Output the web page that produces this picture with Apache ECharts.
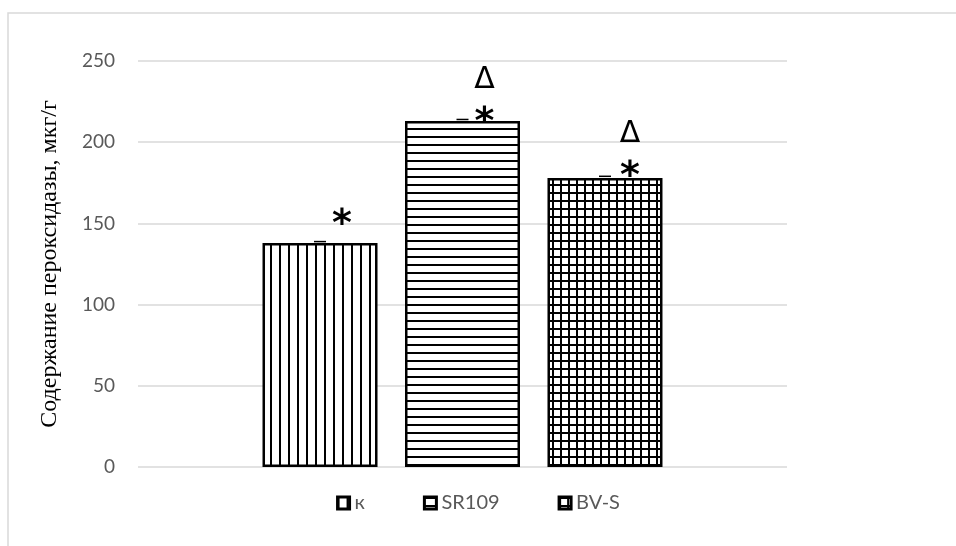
<!DOCTYPE html>
<html>
<head>
<meta charset="utf-8">
<script src="https://cdn.jsdelivr.net/npm/echarts@6/dist/echarts.min.js"></script>
<style>
  html, body { margin: 0; padding: 0; background: #fff; }
  #chart { width: 956px; height: 546px; }
</style>
</head>
<body>
<div id="chart"></div>
<script>
// data
const seriesNames = ["к", "SR109", "BV-S"];
const values = [138, 213, 178];
const errors = [0.8, 1, 1];
const starMarks = ["*", "*", "*"];
const deltaMarks = ["", "Δ", "Δ"];
const yTicks = [0, 50, 100, 150, 200, 250];

// bar geometry (px)
const BAR_W = 115;
const BAR_GAP = 27.5;
// nudges for the significance marks above each bar (px)
const markOffsets = [[22, -11], [22, 9], [25, 6]];

// hatch fills: vertical lines, horizontal lines, grid
function hatch(vertical, horizontal, size) {
  const c = document.createElement("canvas");
  c.width = size;
  c.height = size;
  const ctx = c.getContext("2d");
  ctx.fillStyle = "#fff";
  ctx.fillRect(0, 0, size, size);
  ctx.fillStyle = "#000";
  if (vertical) ctx.fillRect(0, 0, 2, size);
  if (horizontal) ctx.fillRect(0, 0, size, 2);
  return { image: c, repeat: "repeat" };
}
const fills = [hatch(true, false, 9), hatch(false, true, 8), hatch(true, true, 8)];

const chart = echarts.init(document.getElementById("chart"), null, { renderer: "canvas" });

const markRich = {
  d: { fontFamily: "DejaVu Sans", fontSize: 30, color: "#000", lineHeight: 56 },
  s: { fontFamily: "DejaVu Sans", fontWeight: "bold", fontSize: 38, color: "#000", lineHeight: 30 }
};

const barSeries = seriesNames.map((name, i) => ({
  name: name,
  type: "bar",
  barWidth: BAR_W,
  barGap: (BAR_GAP / BAR_W * 100).toFixed(1) + "%",
  data: [values[i]],
  itemStyle: { color: fills[i], borderColor: "#000", borderWidth: 2.5 },
  label: {
    show: true,
    position: "top",
    distance: -8,
    offset: markOffsets[i],
    formatter: () => (deltaMarks[i] ? "{d|" + deltaMarks[i] + "}\n" : "") + "{s|" + starMarks[i] + "}",
    rich: markRich
  },
  z: 2
}));

// tiny error bar caps, placed at each bar's centre
const errorSeries = {
  type: "custom",
  name: "err",
  z: 3,
  data: values.map((v, i) => [0, v, errors[i], i]),
  renderItem: (params, api) => {
    const idx = api.value(3);
    const v = api.value(1), e = api.value(2);
    const center = api.coord([0, 0])[0] + (idx - 1) * (BAR_W + BAR_GAP);
    const top = api.coord([0, v + e])[1];
    return {
      type: "line",
      shape: { x1: center - 6, y1: top, x2: center + 6, y2: top },
      style: { stroke: "#000", lineWidth: 1.5 }
    };
  }
};

chart.setOption({
  animation: false,
  backgroundColor: "#fff",
  graphic: [
    {
      type: "rect",
      shape: { x: 8, y: 13, width: 1000, height: 600 },
      style: { fill: "none", stroke: "#d9d9d9", lineWidth: 1.5 },
      silent: true
    }
  ],
  grid: { left: 138, right: 169, top: 61, bottom: 79 },
  legend: {
    data: seriesNames,
    left: "center",
    bottom: 28,
    itemWidth: 12,
    itemHeight: 12,
    itemGap: 58,
    icon: "rect",
    itemStyle: { borderColor: "#000", borderWidth: 3 },
    textStyle: { fontFamily: "Lato", fontSize: 20, color: "#595959" }
  },
  xAxis: {
    type: "category",
    data: [""],
    axisLine: { show: false },
    axisTick: { show: false },
    axisLabel: { show: false }
  },
  yAxis: {
    type: "value",
    min: yTicks[0],
    max: yTicks[yTicks.length - 1],
    interval: yTicks[1] - yTicks[0],
    name: "Содержание пероксидазы, мкг/г",
    nameLocation: "middle",
    nameGap: 76,
    nameTextStyle: { fontFamily: "Liberation Serif", fontSize: 24, color: "#000" },
    axisLine: { show: false },
    axisTick: { show: false },
    axisLabel: { margin: 23, fontFamily: "Lato", fontSize: 19, color: "#595959" },
    splitLine: { lineStyle: { color: "#d9d9d9", width: 1.5 } }
  },
  series: [...barSeries, errorSeries]
});
</script>
</body>
</html>
